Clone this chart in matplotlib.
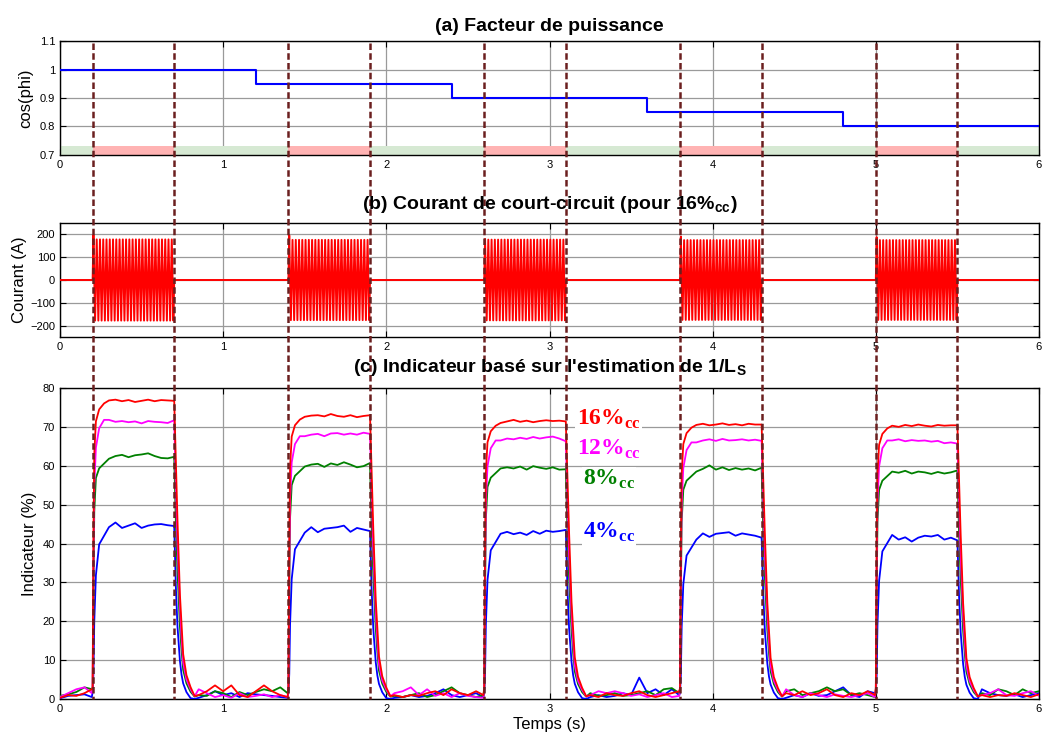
import numpy as np
import matplotlib
matplotlib.use("Agg")
import matplotlib.pyplot as plt
from matplotlib.lines import Line2D
from matplotlib.transforms import blended_transform_factory

plt.rcParams['font.family'] = ['Liberation Sans', 'DejaVu Sans']
plt.rcParams['mathtext.fontset'] = 'custom'
plt.rcParams['mathtext.rm'] = 'Liberation Sans'
plt.rcParams['mathtext.sf'] = 'Liberation Sans:bold'
plt.rcParams['mathtext.bf'] = 'Liberation Serif:bold'

# ==================== données ====================
t_max = 6.0
fault_start = [0.2, 1.4, 2.6, 3.8, 5.0]
fault_end = [0.7, 1.9, 3.1, 4.3, 5.5]

# (a) facteur de puissance (marches)
pf_t = [0.0, 1.2, 2.4, 3.6, 4.8]
pf_val = [1.0, 0.95, 0.90, 0.85, 0.80]

# (b) courant de court-circuit : crêtes par défaut (A), réseau 50 Hz
f_net = 50
i_amp = [178, 176, 177, 175, 175]
i_first = [197, 196, 180, 190, 188]

# (c) indicateur (%) - montée / descente relatives au palier
rise_dt = [0.0, 0.005, 0.01, 0.02, 0.04, 0.07]
fall_dt = [0.0, 0.01, 0.02, 0.035, 0.045, 0.055, 0.075, 0.1, 0.125]

rise16 = [0.04, 0.55, 0.82, 0.93, 0.97, 0.99]
rise12 = [0.04, 0.48, 0.76, 0.9, 0.97, 1.0]
rise8 = [0.04, 0.45, 0.78, 0.92, 0.96, 0.98]
rise4 = [0.04, 0.15, 0.45, 0.72, 0.9, 0.95]

fall16 = [1.0, 0.8, 0.6, 0.35, 0.25, 0.15, 0.08, 0.04, 0.01]
fall12 = [1.0, 0.76, 0.56, 0.33, 0.22, 0.13, 0.07, 0.035, 0.01]
fall8 = [1.0, 0.73, 0.53, 0.3, 0.2, 0.12, 0.065, 0.03, 0.01]
fall4 = [1.0, 0.65, 0.42, 0.22, 0.14, 0.09, 0.04, 0.005, 0.0]

# paliers : échantillons tous les 0.04 s de t0+0.1 à t0+0.5
plat16 = [
    [76.8, 77.0, 76.6, 76.9, 76.4, 76.7, 77.0, 76.6, 76.9, 76.8, 76.7],
    [72.6, 72.9, 73.0, 72.7, 73.3, 72.8, 72.6, 73.0, 72.5, 72.8, 73.0],
    [71.0, 71.4, 71.8, 71.3, 71.6, 71.2, 71.5, 71.7, 71.5, 71.6, 71.4],
    [70.5, 70.8, 70.4, 70.6, 70.9, 70.5, 70.7, 70.4, 70.8, 70.6, 70.6],
    [70.3, 70.0, 70.5, 70.2, 70.6, 70.3, 70.1, 70.5, 70.3, 70.4, 70.4],
]
plat12 = [
    [71.8, 71.3, 71.5, 71.2, 71.4, 70.9, 71.5, 71.3, 71.2, 71.0, 71.7],
    [67.6, 68.0, 68.2, 67.6, 68.3, 68.4, 68.0, 68.3, 68.0, 68.5, 68.2],
    [66.5, 67.0, 66.8, 67.2, 66.9, 67.4, 67.0, 67.3, 67.5, 67.0, 66.3],
    [66.0, 66.5, 66.8, 66.4, 66.9, 66.5, 66.6, 66.8, 66.5, 66.7, 66.4],
    [66.5, 66.8, 66.3, 66.6, 66.4, 66.5, 66.2, 66.4, 65.8, 66.0, 65.7],
]
plat8 = [
    [61.8, 62.5, 62.8, 62.2, 62.7, 62.9, 63.2, 62.5, 62.0, 61.9, 62.3],
    [59.8, 60.3, 60.5, 59.7, 60.6, 60.2, 60.9, 60.3, 59.6, 59.9, 60.7],
    [59.3, 59.6, 59.3, 59.8, 59.0, 59.9, 59.5, 59.2, 59.6, 59.0, 59.1],
    [58.5, 59.2, 60.1, 59.0, 59.6, 58.9, 59.4, 59.0, 59.3, 58.8, 59.5],
    [58.5, 58.2, 58.7, 58.0, 58.5, 58.3, 57.9, 58.4, 58.0, 58.3, 58.8],
]
plat4 = [
    [44.2, 45.4, 44.0, 44.6, 45.2, 44.0, 44.6, 44.9, 45.0, 44.7, 44.5],
    [42.8, 44.2, 42.9, 43.8, 44.0, 44.2, 44.6, 43.0, 44.0, 43.6, 43.2],
    [42.5, 43.0, 42.4, 42.8, 42.2, 43.2, 42.5, 43.3, 43.0, 43.2, 43.5],
    [41.0, 42.6, 41.7, 42.5, 42.7, 42.9, 42.0, 42.6, 42.3, 42.0, 41.5],
    [42.2, 41.0, 41.6, 40.5, 41.5, 42.0, 41.8, 42.2, 41.0, 41.5, 40.8],
]

# hors défaut : échantillons tous les 0.05 s
base16 = [
    [0.3, 1.0, 0.8, 1.5, 2.5],
    [1.0, 2.0, 3.5, 2.0, 3.5, 1.0, 0.5, 2.0, 3.5, 2.0, 1.0, 0.5],
    [1.0, 0.5, 1.0, 0.8, 1.5, 2.0, 1.0, 2.5, 1.5, 1.0, 2.0, 1.0],
    [1.0, 0.5, 1.5, 1.0, 0.8, 1.5, 2.0, 1.0, 0.5, 1.0, 1.5, 2.0],
    [1.5, 1.0, 2.0, 1.0, 1.5, 2.5, 1.0, 0.5, 1.5, 1.0, 2.0, 1.0],
    [1.0, 0.5, 1.0, 0.8, 1.5, 1.0, 0.5, 1.2],
]
base12 = [
    [0.5, 1.5, 2.5, 3.0, 1.5],
    [2.5, 1.5, 0.5, 1.0, 0.3, 1.5, 0.5, 0.8, 1.2, 0.5, 1.0, 0.5],
    [1.5, 2.0, 3.0, 1.0, 2.5, 0.8, 1.5, 0.5, 1.5, 0.8, 0.5, 0.3],
    [1.0, 2.0, 1.5, 2.0, 1.5, 0.8, 1.2, 0.5, 1.0, 1.5, 0.5, 0.8],
    [2.5, 1.0, 0.5, 1.5, 1.0, 0.5, 1.2, 0.8, 0.5, 1.0, 1.5, 0.5],
    [1.0, 1.5, 2.5, 1.0, 0.8, 1.5, 2.0, 0.8],
]
base8 = [
    [0.8, 1.2, 1.8, 3.0, 2.5],
    [1.0, 0.8, 2.0, 1.5, 0.5, 1.8, 1.0, 1.8, 2.5, 2.0, 3.0, 1.5],
    [0.8, 0.5, 1.0, 1.5, 0.5, 1.0, 2.0, 3.0, 1.5, 1.0, 0.5, 1.0],
    [1.5, 0.8, 1.0, 1.5, 0.8, 1.0, 1.5, 2.0, 1.0, 2.5, 2.8, 1.5],
    [2.0, 2.5, 1.0, 1.5, 2.0, 3.0, 2.0, 2.5, 1.0, 1.5, 1.0, 0.5],
    [1.5, 1.0, 2.5, 2.0, 1.0, 2.5, 1.5, 2.0],
]
base4 = [
    [0.2, 0.8, 1.0, 1.2, 0.5],
    [0.3, 1.0, 2.0, 1.0, 1.5, 0.5, 1.5, 1.2, 1.0, 0.8, 0.5, 0.3],
    [0.3, 0.5, 1.0, 0.5, 0.8, 1.5, 2.5, 1.0, 0.5, 1.0, 1.5, 0.5],
    [0.5, 1.0, 0.5, 0.8, 1.5, 1.0, 5.5, 1.5, 2.5, 1.0, 2.5, 1.0],
    [0.3, 1.0, 0.5, 1.5, 0.8, 1.0, 2.0, 3.0, 1.0, 0.5, 2.0, 1.5],
    [2.5, 1.5, 1.0, 0.8, 1.2, 0.5, 1.0, 1.5],
]

labels_c = ['16%', '12%', '8%', '4%']
colors_c = ['#FF0000', '#FF00FF', '#008000', '#0000FF']
label_xy = [(3.168, 70.5), (3.168, 62.8), (3.205, 55.0), (3.205, 41.4)]

DASH_COLOR = '#6B1F1F'
GRID_COLOR = '#9A9A9A'


def gap_times():
    """instants d'échantillonnage des zones hors défaut"""
    gaps = [np.array([0.0, 0.05, 0.1, 0.15, fault_start[0] - 0.005])]
    for k in range(len(fault_start) - 1):
        g = np.arange(fault_end[k] + 0.15, fault_start[k + 1] - 0.04, 0.05)
        gaps.append(np.append(g, fault_start[k + 1] - 0.005))
    gaps.append(np.arange(fault_end[-1] + 0.15, t_max + 0.001, 0.05))
    return gaps


def build_indicator(plat, rise, fall, base):
    gaps = gap_times()
    plat_dt = 0.1 + 0.04 * np.arange(11)
    t_all, y_all = [], []
    for k in range(len(gaps)):
        t_all.append(gaps[k])
        y_all.append(np.array(base[k]))
        if k < len(fault_start):
            t0, t1 = fault_start[k], fault_end[k]
            t_all.append(t0 + np.array(rise_dt))
            y_all.append(np.array(rise) * plat[k][0])
            t_all.append(t0 + plat_dt)
            y_all.append(np.array(plat[k]))
            t_all.append(t1 + np.array(fall_dt[1:]))
            y_all.append(np.array(fall[1:]) * plat[k][-1])
    return np.concatenate(t_all), np.concatenate(y_all)


def build_current():
    half = 1.0 / (2 * f_net)
    t_all, y_all = [0.0], [0.0]
    for k in range(len(fault_start)):
        t0, t1 = fault_start[k], fault_end[k]
        n = int(round((t1 - t0) / half))
        tp = t0 + half / 2 + half * np.arange(n)
        yp = i_amp[k] * np.where(np.arange(n) % 2 == 0, 1.0, -1.0)
        yp[0] = i_first[k]
        t_all += [t0] + list(tp) + [t1]
        y_all += [0.0] + list(yp) + [0.0]
    t_all.append(t_max)
    y_all.append(0.0)
    return t_all, y_all


def style_axes(ax):
    ax.set_xlim(0, t_max)
    ax.set_xticks(range(0, 7))
    ax.tick_params(direction='in', top=True, right=True, length=4,
                   labelsize=8, width=0.8)
    ax.grid(True, color=GRID_COLOR, linewidth=0.9)
    ax.set_axisbelow(True)
    for sp in ax.spines.values():
        sp.set_linewidth(1.0)


fig = plt.figure(figsize=(10.47, 7.35), dpi=100)
left, width = 60 / 1047, 979 / 1047
ax_a = fig.add_axes([left, 1 - 155 / 735, width, 114 / 735])
ax_b = fig.add_axes([left, 1 - 337 / 735, width, 114 / 735])
ax_c = fig.add_axes([left, 1 - 699 / 735, width, 311 / 735])

# (a)
style_axes(ax_a)
ax_a.step(pf_t + [t_max], pf_val + [pf_val[-1]], where='post',
          color='#0000FF', linewidth=1.5, zorder=3)
ax_a.set_ylim(0.7, 1.1)
ax_a.set_yticks([0.7, 0.8, 0.9, 1.0, 1.1])
ax_a.set_yticklabels(['0.7', '0.8', '0.9', '1', '1.1'])
band = 0.03 / 0.4
edges = [0.0] + sorted(fault_start + fault_end) + [t_max]
for k in range(len(edges) - 1):
    col = '#FFB3B3' if k % 2 == 1 else '#D6E9D3'
    ax_a.axvspan(edges[k], edges[k + 1], ymin=0, ymax=band,
                 facecolor=col, edgecolor='none', zorder=2)
ax_a.set_ylabel('cos(phi)', fontsize=12)
ax_a.yaxis.set_label_coords(-0.027, 0.5)

# (b)
style_axes(ax_b)
t_i, y_i = build_current()
ax_b.plot(t_i, y_i, color='#FF0000', linewidth=1.4, zorder=3)
ax_b.set_ylim(-250, 250)
ax_b.set_yticks([-200, -100, 0, 100, 200])
ax_b.set_ylabel('Courant (A)', fontsize=12)
ax_b.yaxis.set_label_coords(-0.034, 0.5)

# (c)
style_axes(ax_c)
series = [(plat4, rise4, fall4, base4), (plat8, rise8, fall8, base8),
          (plat12, rise12, fall12, base12), (plat16, rise16, fall16, base16)]
for (pl, ri, fa, ba), col in zip(series, colors_c[::-1]):
    tc, yc = build_indicator(pl, ri, fa, ba)
    ax_c.plot(tc, yc, color=col, linewidth=1.3, zorder=3)
ax_c.set_ylim(0, 80)
ax_c.set_yticks(range(0, 81, 10))
ax_c.set_ylabel('Indicateur (%)', fontsize=12)
ax_c.yaxis.set_label_coords(-0.024, 0.5)
ax_c.set_xlabel('Temps (s)', fontsize=12, labelpad=2)
for lab, col, (lx, ly) in zip(labels_c, colors_c, label_xy):
    ax_c.text(lx, ly, lab + r'$_\mathbf{cc}$', color=col, fontsize=17,
              family='Liberation Serif', weight='bold', ha='left',
              va='baseline', zorder=4,
              bbox=dict(facecolor='white', edgecolor='none', pad=1))

# titres
xc = left + width / 2
fig.text(xc, 1 - 31 / 735, '(a) Facteur de puissance', ha='center',
         va='baseline', fontsize=14, weight='bold')
fig.text(xc, 1 - 209 / 735, r'(b) Courant de court-circuit (pour 16%$_\mathsf{cc}$)',
         ha='center', va='baseline', fontsize=14, weight='bold')
fig.text(xc, 1 - 372 / 735, r"(c) Indicateur basé sur l'estimation de 1/L$_\mathsf{S}$",
         ha='center', va='baseline', fontsize=14, weight='bold')

# traits verticaux des défauts, sur les trois graphes
trans = blended_transform_factory(ax_c.transData, fig.transFigure)
for tv in sorted(fault_start + fault_end):
    fig.add_artist(Line2D([tv, tv], [1 - 43 / 735, 1 - 699 / 735],
                          transform=trans, color=DASH_COLOR,
                          linewidth=1.8, linestyle=(0, (2.6, 1.3))))

fig.savefig('out.png', dpi=100, facecolor='white')
